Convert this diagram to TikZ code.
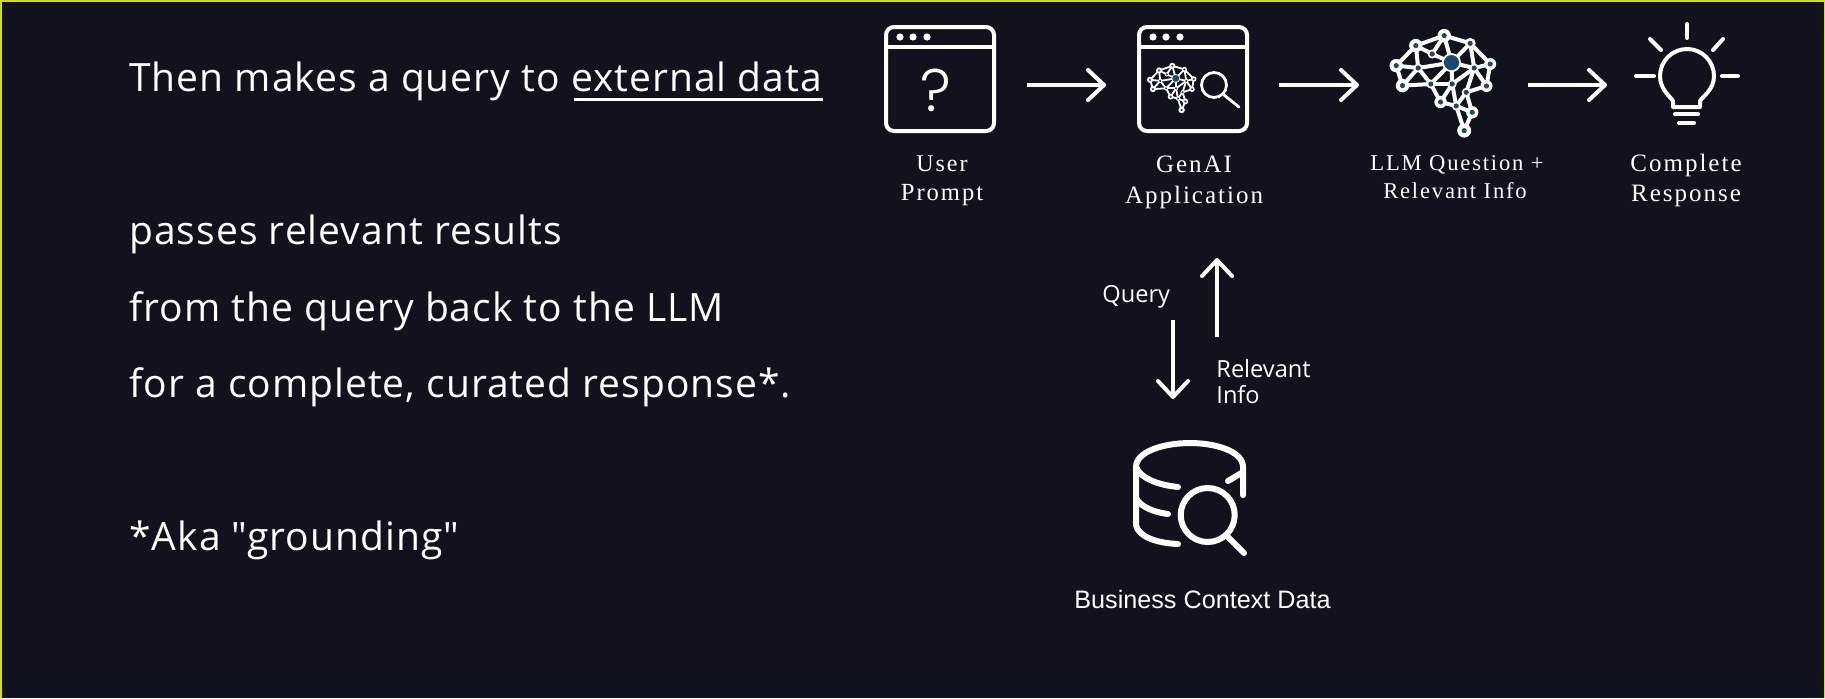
\documentclass[tikz,border=0pt]{standalone}
\usepackage{fontspec}
\setmainfont{Open Sans}
\newfontfamily\bodyfont[LetterSpace=2.6]{Open Sans}
\newfontfamily\capfont[LetterSpace=8]{Liberation Serif}
\newfontfamily\arialfont{Liberation Sans}
\definecolor{bgdark}{RGB}{16, 19, 30}
\definecolor{edgeyellow}{RGB}{212, 224, 0}
\definecolor{dotblue}{RGB}{26, 74, 112}
\usetikzlibrary{arrows.meta}
\usetikzlibrary{positioning}
\tikzset{
  arrow/.style={->,>={Straight Barb[length=8pt,width=15pt,round]},white,line width=2pt,shorten >=16.5pt,shorten <=16.5pt},
  icon/.style={draw=white,line width=2pt,line cap=round,line join=round},
  thickicon/.style={icon,line width=3pt},
  window/.style={draw=white,line width=2pt,rounded corners=4pt,outer sep=0,inner sep=0,minimum width=54pt,minimum height=52pt},
  hidden/.style={inner sep=0,outer sep=0,minimum width=#1},
  bodytext/.style={anchor=base west,inner sep=0,text=white,font=\bodyfont\fontsize{19.5}{23}\selectfont},
  small/.style={anchor=base west,inner sep=0,text=white,align=left,font=\fontsize{11.8}{13}\selectfont},
  caption/.style={anchor=base,inner sep=0,text=white,align=center,font=\capfont\fontsize{#1}{15}\selectfont}
}
\newcommand{\brainicon}[4]{
  \begin{scope}[shift={(#1,#2)},scale=#3]
    \foreach \n/\x/\y in {b1/0.7/-47.7,b2/-27.7/-37.7,b3/26.7/-40,b4/-11.3/-29.3,bc/8/-20.7,b6/-47.3/-17.7,b7/-25.3/-15.3,b8/46.7/-19.3,b9/30.7/-15.3,b10/-41/2.3,b11/-12.7/0.7,b12/8.7/0.7,b13/43/2.7,b14/22.7/9,b15/-3/18.7,b16/12.7/22.7,b17/28.7/29,b18/20.7/47.3}
      \coordinate (\n) at (\x,\y);
    \foreach \a/\b in {b2/b1,b1/b3,b2/b6,b6/b10,b10/b11,b10/b7,b6/b7,b2/b7,b2/b4,b4/b1,b1/bc,b3/bc,b3/b9,b3/b8,b8/b13,b9/b8,b9/b13,b7/bc,b4/bc,b7/b11,b11/bc,b11/b15,b12/b15,b12/b9,b12/b16,b14/b9,b14/b13,b14/b16,b14/b17,b16/b17,b15/b16,b16/b18,b17/b18,bc/b9,bc/b12,b11/b12}
      \draw[white,line width=#4] (\a) -- (\b);
    \foreach \n/\r in {b1/6.7,b2/6.7,b3/5.5,b4/4.5,b6/6.7,b7/4.5,b8/6,b9/4.5,b10/6.7,b11/4.5,b12/4.5,b13/6,b14/4.5,b15/6.2,b16/4.5,b17/6.2,b18/7}
      \fill[white] (\n) circle (\r);
    \fill[white] (bc) circle (9.5);
    \fill[dotblue] (bc) circle (7.6);
    \foreach \n in {b1,b2,b3,b4,b6,b7,b8,b9,b10,b11,b12,b13,b14,b15,b16,b17,b18}
      \fill[dotblue] (\n) circle (2.6);
  \end{scope}
}
\begin{document}
\begin{tikzpicture}[x=0.5pt,y=-0.5pt]
  \useasboundingbox (0,0) rectangle (1825,698);
  \fill[bgdark] (0,0) rectangle (1825,698);
  \draw[edgeyellow,line width=1.5pt] (0,698) -- (0,0) -- (1825,0) -- (1825,698);

  \node[bodytext] (thentext) at (129,91) {Then makes a query to external data};
  \draw[white,line width=1.5pt] (574,99) -- (823,99);
  \node[bodytext] (passtext) at (129,244) {passes relevant results};
  \node[bodytext] (fromtext) at (129,321) {from the query back to the LLM};
  \node[bodytext] (fortext) at (129,397) {for a complete, curated response*.};
  \node[bodytext] (akatext) at (129,550) {*Aka \char34 grounding\char34};

  \node[window] (userwin) at (940,79) {};
  \draw[icon] (886,46.5) -- (994,46.5);
  \foreach \x in {900,913,927} \fill[white] (\x,37) circle (3.6);
  \node[text=white,inner sep=0,font=\fontspec{Poppins Light}\fontsize{30}{30}\selectfont] (userq) at (936,90) {?};

  \node[window] (appwin) at (1193,79) {};
  \draw[icon] (1139,46.5) -- (1247,46.5);
  \foreach \x in {1153,1166,1180} \fill[white] (\x,37) circle (3.6);
  \brainicon{1172}{88}{0.465}{0.9pt}
  \draw[icon,line width=1.4pt] (1214,85) circle (12.5);
  \draw[icon,line width=1.4pt] (1224,95) -- (1239,107);

  \node[hidden=53.5pt,minimum height=54pt] (brainbig) at (1443.5,83) {};
  \brainicon{1443.5}{83.3}{1}{2pt}

  \node[hidden=51pt,minimum height=54pt] (bulb) at (1687,76) {};
  \draw[icon] (1673,107) -- (1700,107) -- (1700,101) .. controls (1702,97) and (1714,90) .. (1714,76)
    arc (0:-180:27) .. controls (1660,90) and (1671,97) .. (1673,101) -- cycle;
  \draw[icon] (1675,114) -- (1698,114);
  \draw[icon] (1679,123) -- (1694,123);
  \draw[icon] (1687,24) -- (1687,38);
  \draw[icon] (1636,76) -- (1654,76);
  \draw[icon] (1722,76) -- (1738,76);
  \draw[icon] (1650,39) -- (1661,50);
  \draw[icon] (1723,39) -- (1713,50);

  \node[hidden=53.5pt,minimum height=55pt] (dbicon) at (1190,498) {};
  \draw[thickicon] (1243,495) -- (1243,467) .. controls (1243,451) and (1215,443) .. (1190,443)
    .. controls (1165,443) and (1136,451) .. (1136,467) -- (1136,525) .. controls (1138,536) and (1155,543) .. (1178,544);
  \draw[thickicon] (1136,467) .. controls (1140,478) and (1158,485) .. (1178,487);
  \draw[thickicon] (1136,498) .. controls (1140,506) and (1152,512) .. (1168,514);
  \draw[thickicon] (1228,481) -- (1243,472);
  \draw[thickicon] (1207.7,515) circle (27);
  \draw[thickicon] (1228,537) -- (1244,553);

  \draw[arrow] ([yshift=-3pt]userwin.east) -- ([yshift=-3pt]appwin.west);
  \draw[arrow,shorten <=16pt,shorten >=15.5pt] ([yshift=-3pt]appwin.east) -- ([yshift=-1pt]brainbig.west);
  \draw[arrow,shorten <=15.5pt,shorten >=14.5pt] ([yshift=-1pt]brainbig.east) -- ([yshift=-4.5pt]bulb.west);
  \draw[arrow,shorten <=94.5pt,shorten >=22pt] ([xshift=-10pt]appwin.south) -- ([xshift=-8.5pt]dbicon.north);
  \draw[arrow,shorten <=53pt,shorten >=63.5pt] ([xshift=13.5pt]dbicon.north) -- ([xshift=12pt]appwin.south);

  \node[caption=12] (usercap) at (942,171) {User};
  \node[caption=12.3] (promptcap) at (942,200) {Prompt};
  \node[caption=12.5] (genaicap) at (1194,172) {GenAI};
  \node[caption=12.5] (appcap) at (1194,203) {Application};
  \node[caption=11.3] (llmcap) at (1457,170) {LLM Question +};
  \node[caption=11.3] (infocap) at (1455,198) {Relevant Info};
  \node[caption=12.5] (completecap) at (1686,171) {Complete};
  \node[caption=12.5] (responsecap) at (1686,201) {Response};

  \node[small] (querytext) at (1102,302) {Query};
  \node[small] (relevanttext) at (1216,377) {Relevant};
  \node[small] (infotext) at (1216,403) {Info};
  \node[anchor=base,inner sep=0,text=white,font=\arialfont\fontsize{12.6}{15}\selectfont] (datacap) at (1202.5,608) {Business Context Data};
\end{tikzpicture}
\end{document}
